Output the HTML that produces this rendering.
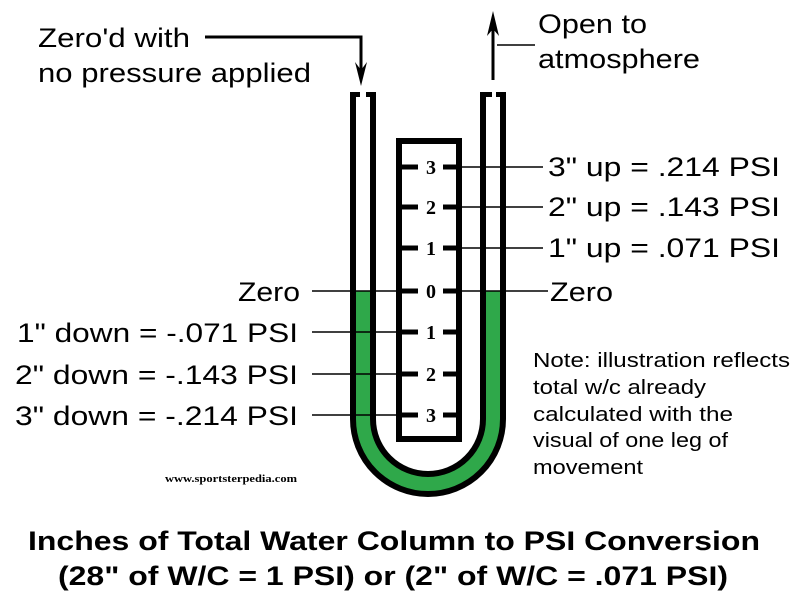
<!DOCTYPE html>
<html><head><meta charset="utf-8"><style>
html,body{margin:0;padding:0;background:#fff;}
svg{display:block;}
text{font-family:"Liberation Sans",Arial,sans-serif;fill:#000;}
.n{font-family:"Liberation Serif",serif;font-weight:bold;font-size:20px;}
</style></head><body>
<svg width="800" height="600" viewBox="0 0 800 600" xmlns="http://www.w3.org/2000/svg">
<rect width="800" height="600" fill="#fff"/>
<path d="M363 92 L363 419 A65 65 0 0 0 493 419 L493 92" fill="none" stroke="#000" stroke-width="26"/>
<path d="M363 92 L363 291" fill="none" stroke="#fff" stroke-width="14"/>
<path d="M493 92 L493 291" fill="none" stroke="#fff" stroke-width="14"/>
<path d="M363 291 L363 419 A65 65 0 0 0 493 419 L493 291" fill="none" stroke="#2fa84a" stroke-width="14"/>
<rect x="350" y="92" width="10" height="5" fill="#000"/>
<rect x="366" y="92" width="10" height="5" fill="#000"/>
<rect x="482" y="92" width="10" height="5" fill="#000"/>
<rect x="496" y="92" width="10" height="5" fill="#000"/>
<rect x="399" y="141" width="60" height="298" fill="#fff" stroke="#000" stroke-width="6"/>
<g stroke="#000" stroke-width="1.5">
<line x1="459" y1="167" x2="543" y2="167"/>
<line x1="459" y1="207" x2="543" y2="207"/>
<line x1="459" y1="248" x2="543" y2="248"/>
<line x1="459" y1="291" x2="548" y2="291"/>
<line x1="312" y1="291" x2="399" y2="291"/>
<line x1="312" y1="332" x2="399" y2="332"/>
<line x1="312" y1="374" x2="399" y2="374"/>
<line x1="312" y1="415" x2="399" y2="415"/>
<line x1="497" y1="45" x2="535" y2="45"/>
</g>
<g stroke="#000" stroke-width="5">
<line x1="399" y1="167" x2="418" y2="167"/><line x1="443" y1="167" x2="459" y2="167"/>
<line x1="399" y1="207" x2="418" y2="207"/><line x1="443" y1="207" x2="459" y2="207"/>
<line x1="399" y1="248" x2="418" y2="248"/><line x1="443" y1="248" x2="459" y2="248"/>
<line x1="399" y1="291" x2="418" y2="291"/><line x1="443" y1="291" x2="459" y2="291"/>
<line x1="399" y1="332" x2="418" y2="332"/><line x1="443" y1="332" x2="459" y2="332"/>
<line x1="399" y1="374" x2="418" y2="374"/><line x1="443" y1="374" x2="459" y2="374"/>
<line x1="399" y1="415" x2="418" y2="415"/><line x1="443" y1="415" x2="459" y2="415"/>
</g>
<g text-anchor="middle">
<text class="n" x="431" y="174">3</text>
<text class="n" x="431" y="214">2</text>
<text class="n" x="431" y="255">1</text>
<text class="n" x="431" y="298">0</text>
<text class="n" x="431" y="339">1</text>
<text class="n" x="431" y="381">2</text>
<text class="n" x="431" y="422">3</text>
</g>
<path d="M205 37 L361 37 L361 76" fill="none" stroke="#000" stroke-width="3"/>
<path d="M355 62 L361 86 L367 62 L361 70 Z" fill="#000"/>
<path d="M493 80 L493 20" fill="none" stroke="#000" stroke-width="3"/>
<path d="M487 36 L493 11 L499 36 L493 29 Z" fill="#000"/>
<g font-size="27" lengthAdjust="spacingAndGlyphs">
<text x="38" y="47" textLength="152" lengthAdjust="spacingAndGlyphs">Zero'd with</text>
<text x="38" y="82" textLength="273" lengthAdjust="spacingAndGlyphs">no pressure applied</text>
<text x="538" y="33" textLength="109" lengthAdjust="spacingAndGlyphs">Open to</text>
<text x="538" y="68" textLength="162" lengthAdjust="spacingAndGlyphs">atmosphere</text>
<text x="548" y="176" textLength="232" lengthAdjust="spacingAndGlyphs">3" up = .214 PSI</text>
<text x="548" y="216" textLength="232" lengthAdjust="spacingAndGlyphs">2" up = .143 PSI</text>
<text x="548" y="257" textLength="232" lengthAdjust="spacingAndGlyphs">1" up = .071 PSI</text>
<text x="550" y="301" textLength="63" lengthAdjust="spacingAndGlyphs">Zero</text>
<text x="238" y="301" textLength="62" lengthAdjust="spacingAndGlyphs">Zero</text>
<text x="17" y="342" textLength="281" lengthAdjust="spacingAndGlyphs">1" down = -.071 PSI</text>
<text x="15" y="384" textLength="283" lengthAdjust="spacingAndGlyphs">2" down = -.143 PSI</text>
<text x="15" y="425" textLength="283" lengthAdjust="spacingAndGlyphs">3" down = -.214 PSI</text>
</g>
<g font-size="20">
<text x="533" y="367" textLength="257" lengthAdjust="spacingAndGlyphs">Note: illustration reflects</text>
<text x="533" y="394" textLength="173" lengthAdjust="spacingAndGlyphs">total w/c already</text>
<text x="533" y="421" textLength="200" lengthAdjust="spacingAndGlyphs">calculated with the</text>
<text x="533" y="447" textLength="195" lengthAdjust="spacingAndGlyphs">visual of one leg of</text>
<text x="533" y="474" textLength="110" lengthAdjust="spacingAndGlyphs">movement</text>
</g>
<text x="165" y="482" font-weight="bold" font-size="11" textLength="132" lengthAdjust="spacingAndGlyphs" style="font-family:'Liberation Serif',serif">www.sportsterpedia.com</text>
<g font-size="27" font-weight="bold">
<text x="28" y="550" textLength="732" lengthAdjust="spacingAndGlyphs">Inches of Total Water Column to PSI Conversion</text>
<text x="58" y="585" textLength="670" lengthAdjust="spacingAndGlyphs">(28" of W/C = 1 PSI) or (2" of W/C = .071 PSI)</text>
</g>
</svg>
</body></html>
